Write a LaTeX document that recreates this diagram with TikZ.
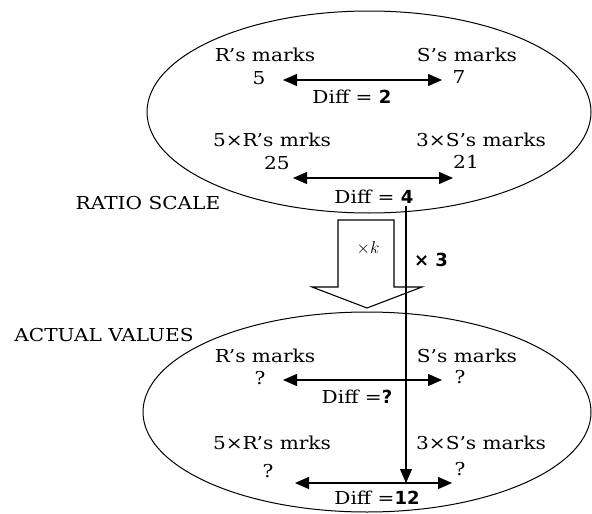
\documentclass[tikz,border=0pt]{standalone}
\usepackage{fontspec}
\setmainfont{DejaVu Serif}[FakeStretch=1.13]
\newfontfamily\sansbf{DejaVu Sans}
\usetikzlibrary{positioning}
\usetikzlibrary{arrows.meta}
\newcommand{\bnum}[1]{{\sansbf\bfseries\fontsize{18}{18}\selectfont #1}}
\tikzset{txt/.style = {inner sep=0pt, font=\fontsize{17.8}{20}\selectfont}}
\tikzset{dbl/.style = {line width=1.3pt,
                       {Triangle[length=14pt,width=12pt]}-{Triangle[length=14pt,width=12pt]}}}
\tikzset{drop/.style = {line width=1.1pt, -{Triangle[length=14pt,width=12pt]}}}
\tikzset{every picture/.style={x=1pt, y=-1pt}}

\begin{document}
\begin{tikzpicture}

      \useasboundingbox (0,0) rectangle (592,514);

      % ratio scale
      \draw[line width=1pt] (369,112) ellipse [x radius=222pt, y radius=101pt];
      \node[txt] (rA)  at (265,55)  {R's marks};
      \node[txt] (sA)  at (467,55)  {S's marks};
      \node[txt] (rA1) at (259,78)  {5};
      \node[txt] (sA1) at (459,77)  {7};
      \node[txt] (dA)  at (352,97)  {Diff = \bnum{2}};
      \node[txt] (rB)  at (272,140) {5×R's mrks};
      \node[txt] (sB)  at (481,140) {3×S's marks};
      \node[txt] (rB1) at (277,163) {25};
      \node[txt] (sB1) at (466,162) {21};
      \node[txt] (dB)  at (374,197) {Diff = \bnum{4}};
      \node[txt] (rat) at (148,203) {RATIO SCALE};

      \coordinate (aAl) at (283,80);  \coordinate (aAr) at (442,80);
      \coordinate (aBl) at (293,178); \coordinate (aBr) at (453,178);
      \draw[dbl] (aAl) -- (aAr);
      \draw[dbl] (aBl) -- (aBr);

      % big arrow
      \draw[line width=1.1pt] (338,220) -- (394,220) -- (394,287) -- (422,287)
        -- (367,308) -- (312,287) -- (338,287) -- cycle;
      \node[inner sep=0pt, font=\fontsize{17.28}{18}\selectfont] (k) at (368,248) {$\times k$};

      % actual values
      \draw[line width=1pt] (367,412) ellipse [x radius=224pt, y radius=100pt];
      \node[txt] (act) at (104,335) {ACTUAL VALUES};
      \node[txt] (rC)  at (265,356) {R's marks};
      \node[txt] (sC)  at (467,356) {S's marks};
      \node[txt] (rC1) at (260,378) {?};
      \node[txt] (sC1) at (460,377) {?};
      \node[txt] (dC)  at (357,397) {Diff =\bnum{?}};
      \node[txt] (rD)  at (272,443) {5×R's mrks};
      \node[txt] (sD)  at (481,443) {3×S's marks};
      \node[txt] (rD1) at (268,471) {?};
      \node[txt] (sD1) at (460,469) {?};
      \node[txt] (dD)  at (377,498) {Diff =\bnum{12}};

      \coordinate (aCl) at (283,380); \coordinate (aCr) at (442,380);
      \coordinate (aDl) at (295,483); \coordinate (aDr) at (452,483);
      \draw[dbl] (aCl) -- (aCr);
      \draw[dbl] (aDl) -- (aDr);

      % times 3
      \coordinate (top3) at (406,206);
      \coordinate (bot3) at (406,483);
      \draw[drop] (top3) -- (bot3);
      \node[inner sep=0pt] (three) at (431,260) {\bnum{× 3}};

\end{tikzpicture}
\end{document}
